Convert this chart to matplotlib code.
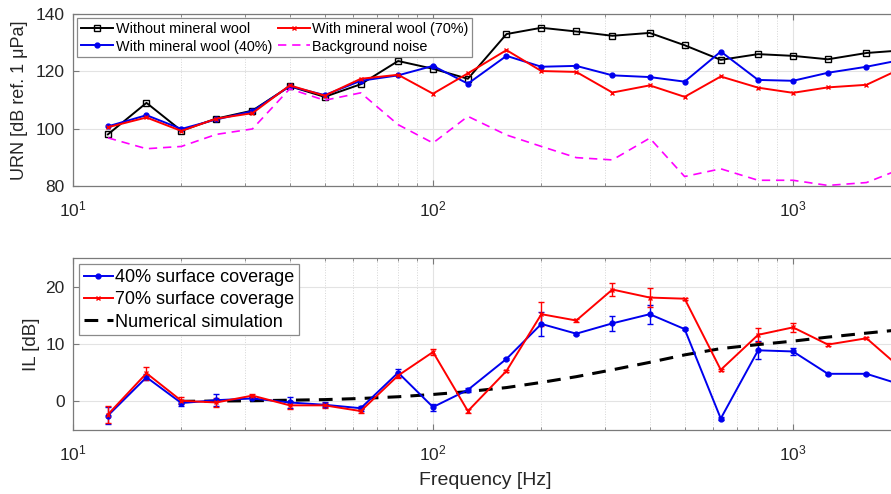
import numpy as np
import matplotlib
matplotlib.use("Agg")
import matplotlib.pyplot as plt
from matplotlib.lines import Line2D
from matplotlib.ticker import (FixedLocator, LogLocator, NullFormatter,
                               LogFormatterSciNotation)

plt.rcParams['font.family'] = ['Liberation Sans', 'DejaVu Sans']
plt.rcParams['mathtext.fontset'] = 'custom'
plt.rcParams['mathtext.rm'] = 'Liberation Sans'
plt.rcParams['mathtext.it'] = 'Liberation Sans:italic'

# One-third octave band centre frequencies [Hz]
freq = [12.5, 16, 20, 25, 31.5, 40, 50, 63, 80, 100, 125, 160, 200, 250,
        315, 400, 500, 630, 800, 1000, 1250, 1600, 2000]

# Radiated noise levels [dB re 1 uPa]
urn_without = [98.0, 109.0, 99.3, 103.5, 106.3, 114.8, 111.1, 115.5, 123.6, 120.9,
               117.4, 133.0, 135.2, 133.9, 132.4, 133.4, 129.1, 124.0, 126.0, 125.4,
               124.2, 126.4, 127.3]
urn_40 = [100.8, 104.7, 99.9, 103.2, 106.1, 114.8, 111.7, 116.7, 118.6, 121.9,
          115.7, 125.4, 121.6, 121.9, 118.6, 118.0, 116.4, 126.9, 117.0, 116.7,
          119.5, 121.6, 124.0]
urn_70 = [100.5, 103.9, 99.2, 103.5, 105.4, 115.1, 111.5, 117.4, 118.8, 112.2,
          119.3, 127.4, 120.1, 119.8, 112.6, 115.1, 111.1, 118.2, 114.3, 112.5,
          114.4, 115.3, 121.0]
urn_background = [96.8, 93.0, 93.8, 98.0, 99.9, 113.9, 109.9, 112.5, 101.4, 95.0,
                  104.3, 97.8, 93.8, 89.9, 89.1, 96.7, 83.3, 86.0, 82.0, 82.0,
                  80.2, 81.2, 86.0]

# Insertion loss [dB] and its spread
il_40 = [-2.5, 4.2, -0.3, 0.2, 0.5, -0.2, -0.6, -1.2, 5.0, -1.0,
         2.0, 7.4, 13.5, 11.8, 13.6, 15.2, 12.6, -3.0, 8.9, 8.7,
         4.8, 4.8, 2.9]
il_40_err = [1.5, 0.5, 0.6, 1.1, 0.3, 0.9, 0.4, 0.4, 0.7, 0.6,
             0.4, 0.2, 2.1, 0.2, 1.3, 1.65, 0.2, 0.2, 1.6, 0.6,
             0.2, 0.2, 0.2]
il_70 = [-2.3, 4.9, 0.1, -0.2, 1.0, -0.7, -0.7, -1.7, 4.5, 8.6,
         -1.7, 5.3, 15.2, 14.1, 19.5, 18.1, 17.9, 5.5, 11.6, 12.9,
         9.9, 11.0, 5.7]
il_70_err = [1.5, 1.1, 0.6, 0.8, 0.3, 0.7, 0.4, 0.4, 0.5, 0.6,
             0.4, 0.2, 2.1, 0.2, 1.2, 1.65, 0.2, 0.2, 1.2, 0.8,
             0.2, 0.2, 0.2]

# Numerical prediction of insertion loss [dB]
sim_freq = [20, 25, 31.5, 40, 50, 63, 80, 100, 125, 160, 200, 250,
            315, 400, 500, 630, 800, 1000, 1250, 1600, 2000]
il_sim = [0.0, 0.05, 0.1, 0.2, 0.3, 0.5, 0.8, 1.2, 1.7, 2.4, 3.3, 4.3,
          5.5, 6.8, 8.1, 9.2, 9.9, 10.5, 11.2, 11.9, 12.5]

# Labelled decades on the frequency axis
x_major_ticks = [10, 100, 1000]

W, H = 891, 494
fig = plt.figure(figsize=(W / 100, H / 100), dpi=100)

# Axes run wider than the canvas; the right-hand part falls outside the figure
AX_LEFT_PX, AX_WIDTH_PX = 73, 1080
ax1 = fig.add_axes([AX_LEFT_PX / W, 1 - 186 / H, AX_WIDTH_PX / W, 172 / H])
ax2 = fig.add_axes([AX_LEFT_PX / W, 1 - 430 / H, AX_WIDTH_PX / W, 172 / H])

frame_col = '#7a7a7a'
text_col = '#262626'
blue = '#0000ee'
red = '#ff0000'


def px_to_axes_x(px):
    return (px - AX_LEFT_PX) / AX_WIDTH_PX


def style_axis(ax):
    ax.set_xscale('log')
    ax.set_xlim(10, 1e4)
    ax.xaxis.set_major_locator(FixedLocator(x_major_ticks))
    ax.xaxis.set_major_formatter(LogFormatterSciNotation())
    ax.xaxis.set_minor_locator(LogLocator(base=10, subs=np.arange(2, 10)))
    ax.xaxis.set_minor_formatter(NullFormatter())
    ax.grid(True, which='major', axis='both', color='#e3e3e3', lw=0.8, ls='-')
    ax.grid(True, which='minor', axis='x', color='#d5d5d5', lw=0.7, ls=':')
    ax.set_axisbelow(True)
    ax.tick_params(which='both', direction='in', top=True, right=True,
                   colors=frame_col, labelcolor=text_col, labelsize=12.5)
    ax.tick_params(which='major', length=4)
    ax.tick_params(which='minor', length=2)
    ax.tick_params(axis='x', which='major', pad=10)
    ax.tick_params(axis='y', which='major', pad=6)
    for s in ax.spines.values():
        s.set_color(frame_col)
        s.set_linewidth(0.9)


# Upper panel: radiated noise
style_axis(ax1)
ax1.plot(freq, urn_without, color='black', lw=1.4, marker='s', ms=4.5,
         mfc='none', mew=1.0, label='Without mineral wool')
ax1.plot(freq, urn_40, color=blue, lw=1.4, marker='o', ms=3.5,
         label='With mineral wool (40%)')
ax1.plot(freq, urn_70, color=red, lw=1.4, marker='x', ms=3.5, mew=1.0,
         label='With mineral wool (70%)')
ax1.plot(freq, urn_background, color='#ff00ff', lw=1.2, ls=(0, (5, 3.5)),
         label='Background noise')
ax1.set_ylim(80, 140)
ax1.set_yticks([80, 100, 120, 140])
ax1.set_ylabel('URN [dB ref. 1 μPa]', fontsize=13, color=text_col)
ax1.yaxis.set_label_coords(px_to_axes_x(28), 0.5)
leg1 = ax1.legend(loc='upper left', ncol=2, fontsize=10.4, frameon=True,
                  fancybox=False, edgecolor='#8a8a8a', framealpha=1,
                  handlelength=2.2, handletextpad=0.2, columnspacing=0.4,
                  labelspacing=0.25, borderpad=0.25, borderaxespad=0.3)
leg1.get_frame().set_linewidth(0.9)

# Lower panel: insertion loss
style_axis(ax2)
ax2.errorbar(freq, il_40, yerr=il_40_err, color=blue, lw=1.4, marker='o',
             ms=3.5, capsize=2, elinewidth=1.0, capthick=1.0)
ax2.errorbar(freq, il_70, yerr=il_70_err, color=red, lw=1.4, marker='x',
             ms=3.5, mew=1.0, capsize=2, elinewidth=1.0, capthick=1.0)
ax2.plot(sim_freq, il_sim, color='black', lw=2.2, ls=(0, (4.5, 3)))
ax2.set_ylim(-5, 25)
ax2.set_yticks([0, 10, 20])
ax2.set_ylabel('IL [dB]', fontsize=13.5, color=text_col)
ax2.yaxis.set_label_coords(px_to_axes_x(40), 0.5)
ax2.set_xlabel('Frequency [Hz]', fontsize=14, color=text_col)
ax2.xaxis.set_label_coords(px_to_axes_x(485), -0.245)

legend_handles = [
    Line2D([], [], color=blue, lw=1.4, marker='o', ms=3.5),
    Line2D([], [], color=red, lw=1.4, marker='x', ms=3.5, mew=1.0),
    Line2D([], [], color='black', lw=2.2, ls=(0, (4.5, 3))),
]
legend_labels = ['40% surface coverage', '70% surface coverage',
                 'Numerical simulation']
leg2 = ax2.legend(legend_handles, legend_labels, loc='upper left', fontsize=13,
                  frameon=True, fancybox=False, edgecolor='#8a8a8a',
                  framealpha=1, handlelength=1.6, handletextpad=0.15,
                  labelspacing=0.3, borderpad=0.25, borderaxespad=0.35)
leg2.get_frame().set_linewidth(0.9)

fig.savefig('out.png', dpi=100)
